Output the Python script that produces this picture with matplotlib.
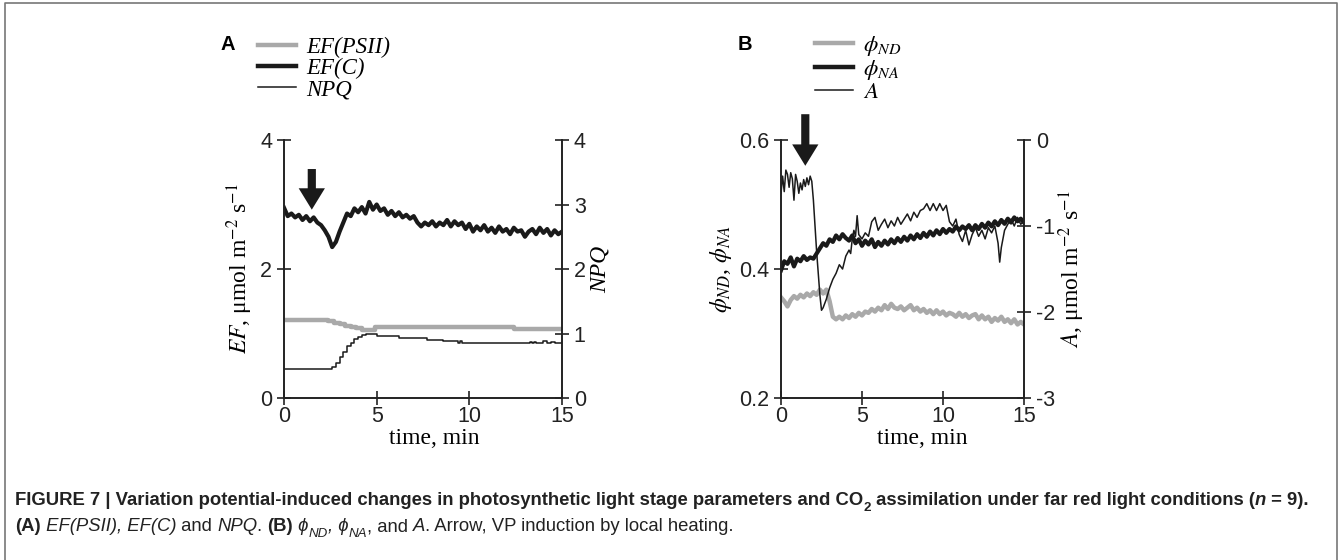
import numpy as np
import matplotlib
matplotlib.use('Agg')
import matplotlib.pyplot as plt
from matplotlib.lines import Line2D
from matplotlib.font_manager import FontProperties

# ---------------- data ----------------
t_grid = np.round(np.arange(0, 15.01, 0.2), 2)

ef_c = [2.95, 2.82, 2.86, 2.80, 2.84, 2.76, 2.82, 2.74, 2.80, 2.72,
        2.68, 2.60, 2.50, 2.34, 2.42, 2.58, 2.72, 2.86, 2.82, 2.94,
        2.88, 2.96, 2.86, 3.04, 2.92, 3.00, 2.90, 2.94, 2.84, 2.90,
        2.82, 2.88, 2.80, 2.84, 2.78, 2.82, 2.72, 2.66, 2.72, 2.68,
        2.74, 2.66, 2.72, 2.68, 2.76, 2.66, 2.74, 2.68, 2.72, 2.62,
        2.70, 2.58, 2.66, 2.60, 2.68, 2.58, 2.64, 2.56, 2.66, 2.58,
        2.62, 2.54, 2.64, 2.58, 2.60, 2.50, 2.58, 2.62, 2.54, 2.64,
        2.56, 2.62, 2.52, 2.60, 2.54, 2.58]

t_psii = [0, 2.4, 2.7, 3.0, 3.3, 3.6, 3.9, 4.2, 4.9, 12.4, 15]
ef_psii = [1.21, 1.19, 1.17, 1.15, 1.12, 1.10, 1.08, 1.06, 1.10, 1.07, 1.07]

t_npq = [0, 2.4, 2.6, 2.8, 3.0, 3.2, 3.4, 3.6, 3.8, 4.0,
         4.2, 4.4, 4.6, 4.9, 5.0, 6.0, 6.2, 7.5, 7.7, 8.4,
         8.6, 9.3, 9.4, 9.5, 9.6, 10.0, 13.2, 13.3, 13.4, 13.5,
         13.6, 13.8, 14.0, 14.2, 14.4, 14.6, 15]
npq = [0.45, 0.45, 0.48, 0.55, 0.63, 0.72, 0.80, 0.86, 0.91, 0.94,
       0.97, 0.99, 1.00, 1.00, 0.96, 0.96, 0.93, 0.93, 0.90, 0.90,
       0.88, 0.88, 0.86, 0.89, 0.86, 0.85, 0.85, 0.87, 0.85, 0.87,
       0.86, 0.86, 0.88, 0.86, 0.87, 0.86, 0.87]

phi_nd = [0.356, 0.350, 0.342, 0.352, 0.358, 0.354, 0.360, 0.356, 0.362, 0.358,
          0.364, 0.360, 0.368, 0.362, 0.368, 0.350, 0.326, 0.322, 0.326, 0.322,
          0.328, 0.324, 0.330, 0.326, 0.332, 0.328, 0.334, 0.332, 0.338, 0.334,
          0.340, 0.336, 0.344, 0.338, 0.346, 0.340, 0.338, 0.342, 0.336, 0.340,
          0.344, 0.336, 0.340, 0.334, 0.338, 0.332, 0.336, 0.330, 0.336, 0.330,
          0.334, 0.328, 0.332, 0.330, 0.326, 0.332, 0.326, 0.330, 0.324, 0.328,
          0.330, 0.322, 0.328, 0.322, 0.326, 0.318, 0.324, 0.320, 0.326, 0.318,
          0.322, 0.316, 0.322, 0.314, 0.318, 0.314]

phi_na = [0.398, 0.412, 0.408, 0.418, 0.404, 0.416, 0.412, 0.420, 0.414, 0.418,
          0.416, 0.424, 0.432, 0.440, 0.436, 0.446, 0.442, 0.452, 0.446, 0.454,
          0.448, 0.444, 0.452, 0.440, 0.446, 0.436, 0.444, 0.438, 0.446, 0.434,
          0.442, 0.436, 0.444, 0.438, 0.446, 0.440, 0.448, 0.442, 0.450, 0.444,
          0.452, 0.446, 0.454, 0.448, 0.456, 0.450, 0.458, 0.452, 0.460, 0.454,
          0.462, 0.456, 0.462, 0.458, 0.466, 0.460, 0.466, 0.462, 0.468, 0.460,
          0.468, 0.462, 0.470, 0.464, 0.472, 0.466, 0.474, 0.468, 0.476, 0.470,
          0.478, 0.472, 0.480, 0.474, 0.478, 0.472]

t_assim = [0, 0.1, 0.2, 0.3, 0.4, 0.5, 0.6, 0.7, 0.8, 0.9,
           1.0, 1.1, 1.2, 1.3, 1.4, 1.5, 1.6, 1.7, 1.8, 1.9,
           2.0, 2.2, 2.4, 2.5, 2.6, 2.8, 3.0, 3.2, 3.4, 3.6,
           3.8, 4.0, 4.2, 4.3, 4.4, 4.5, 4.6, 4.7, 4.8, 5.0,
           5.2, 5.4, 5.6, 5.8, 6.0, 6.2, 6.4, 6.6, 6.8, 7.0,
           7.2, 7.4, 7.6, 7.8, 8.0, 8.2, 8.4, 8.6, 8.8, 9.0,
           9.2, 9.4, 9.6, 9.8, 10.0, 10.2, 10.4, 10.6, 10.8, 11.0,
           11.2, 11.4, 11.6, 11.8, 12.0, 12.2, 12.4, 12.6, 12.8, 13.0,
           13.2, 13.4, 13.5, 13.6, 13.8, 14.0, 14.2, 14.4, 14.6, 14.8,
           15.0]
assim = [-0.62, -0.42, -0.60, -0.35, -0.40, -0.55, -0.38, -0.45, -0.70, -0.40,
         -0.48, -0.62, -0.50, -0.58, -0.46, -0.54, -0.44, -0.52, -0.42, -0.48,
         -0.70, -1.30, -1.80, -1.98, -1.95, -1.85, -1.72, -1.62, -1.55, -1.45,
         -1.50, -1.35, -1.28, -1.32, -1.15, -1.05, -1.12, -0.88, -1.10, -1.15,
         -1.08, -1.12, -0.95, -0.90, -1.05, -0.98, -0.92, -1.02, -0.94, -1.00,
         -0.90, -0.98, -0.92, -0.86, -0.94, -0.84, -0.90, -0.82, -0.80, -0.74,
         -0.82, -0.74, -0.82, -0.74, -0.82, -0.76, -0.95, -1.00, -0.92, -1.10,
         -1.18, -1.05, -1.22, -1.10, -1.02, -1.12, -1.05, -1.15, -1.02, -1.08,
         -1.00, -1.20, -1.42, -1.25, -1.05, -0.98, -0.92, -1.00, -0.90, -0.98,
         -0.94]

arrow_time = 1.5
x_ticks = [0, 5, 10, 15]
yA_left_ticks = [0, 2, 4]
yA_right_ticks = [0, 1, 2, 3, 4]
yB_left_ticks = [0.2, 0.4, 0.6]
yB_right_ticks = [-3, -2, -1, 0]

# ---------------- fonts ----------------
CAP_FAMILY = ['Liberation Sans', 'DejaVu Sans']
SERIF = 'Liberation Serif'

plt.rcParams['font.family'] = ['Liberation Sans', 'DejaVu Sans']
plt.rcParams['mathtext.fontset'] = 'stix'
plt.rcParams['axes.unicode_minus'] = False

W, H = 1342, 560
fig = plt.figure(figsize=(W / 100, H / 100), dpi=100)


def fx(px):
    return px / W


def fy(py):
    return 1 - py / H


GRAY = '#a9a9a9'
BLACK = '#1a1a1a'
TICK_FS = 15.5
LABEL_FS = 17

# frame
fig.add_artist(Line2D([fx(5), fx(5), fx(1337), fx(1337)], [0, fy(3), fy(3), 0],
                      transform=fig.transFigure, color='#777777', lw=1.2))


def style_axes(ax, ax2):
    for a in (ax, ax2):
        a.spines['top'].set_visible(False)
        for s in ('left', 'right', 'bottom'):
            a.spines[s].set_linewidth(1.2)
            a.spines[s].set_color('#222222')
        a.tick_params(direction='inout', length=10, width=1.2, labelsize=TICK_FS,
                      color='#222222', labelcolor='#222222')
    ax.tick_params(axis='x', pad=0.5)
    ax.set_xlim(0, 15)
    ax.set_xticks(x_ticks)


def arrow(ax, x, y_tip, y_tail):
    ax.annotate('', xy=(x, y_tip), xytext=(x, y_tail),
                arrowprops=dict(arrowstyle='simple,head_length=1.1,head_width=1.35,tail_width=0.42',
                                fc=BLACK, ec=BLACK, lw=0, shrinkA=0, shrinkB=0,
                                mutation_scale=14),
                annotation_clip=False)


AX_TOP, AX_BOT = 140, 398

# ---------------- panel A ----------------
axA = fig.add_axes([fx(284), fy(AX_BOT), fx(562) - fx(284), (AX_BOT - AX_TOP) / H])
axA2 = axA.twinx()
style_axes(axA, axA2)
axA.plot(t_psii, ef_psii, color=GRAY, lw=3.2, drawstyle='steps-post')
axA.plot(t_grid, ef_c, color=BLACK, lw=3.0)
axA2.plot(t_npq, npq, color=BLACK, lw=1.1, drawstyle='steps-post')
axA.set_ylim(0, 4)
axA2.set_ylim(0, 4)
axA.set_yticks(yA_left_ticks)
axA2.set_yticks(yA_right_ticks)
axA.set_ylabel(r'$\mathit{EF}$, μmol m$^{-2}$ s$^{-1}$', family=SERIF, fontsize=LABEL_FS)
axA2.set_ylabel('NPQ', family=SERIF, style='italic', fontsize=LABEL_FS, labelpad=3)
axA.set_xlabel('time, min', family=SERIF, fontsize=LABEL_FS)
axA.xaxis.set_label_coords(0.54, -0.118)
arrow(axA, arrow_time, 2.92, 3.55)

# ---------------- panel B ----------------
axB = fig.add_axes([fx(781), fy(AX_BOT), fx(1024) - fx(781), (AX_BOT - AX_TOP) / H])
axB2 = axB.twinx()
style_axes(axB, axB2)
axB.plot(t_grid, phi_nd, color=GRAY, lw=3.2)
axB.plot(t_grid, phi_na, color=BLACK, lw=3.0)
axB2.plot(t_assim, assim, color=BLACK, lw=1.1)
axB.set_ylim(0.2, 0.6)
axB2.set_ylim(-3, 0)
axB.set_yticks(yB_left_ticks)
axB.set_yticklabels(['%.1f' % v for v in yB_left_ticks])
axB2.set_yticks(yB_right_ticks)
axB.set_ylabel(r'$\phi_{ND}$, $\phi_{NA}$', family=SERIF, fontsize=LABEL_FS)
axB2.set_ylabel(r'$\mathit{A}$, μmol m$^{-2}$ s$^{-1}$', family=SERIF, fontsize=LABEL_FS,
                labelpad=1)
axB.set_xlabel('time, min', family=SERIF, fontsize=LABEL_FS)
axB.xaxis.set_label_coords(0.58, -0.118)
arrow(axB, arrow_time, 0.56, 0.64)

# ---------------- panel letters & legends ----------------
fig.text(fx(228), fy(45), 'A', weight='bold', fontsize=14.5, va='center', ha='center')
fig.text(fx(745), fy(45), 'B', weight='bold', fontsize=14.5, va='center', ha='center')

leg_prop = FontProperties(family=SERIF, style='italic', size=16.5)
hA = [Line2D([], [], color=GRAY, lw=3.2), Line2D([], [], color=BLACK, lw=3.2),
      Line2D([], [], color=BLACK, lw=1.1)]
fig.legend(hA, ['EF(PSII)', 'EF(C)', 'NPQ'], loc='upper left',
           bbox_to_anchor=(fx(258), fy(37)), frameon=False, borderpad=0, borderaxespad=0,
           handlelength=1.65, handletextpad=0.45, labelspacing=0.0, prop=leg_prop)
fig.legend(hA, [r'$\phi_{ND}$', r'$\phi_{NA}$', r'$A$'], loc='upper left',
           bbox_to_anchor=(fx(815), fy(34)), frameon=False, borderpad=0, borderaxespad=0,
           handlelength=1.65, handletextpad=0.45, labelspacing=0.0, prop=leg_prop)

# ---------------- caption ----------------
renderer = fig.canvas.get_renderer()


def text_w(s, **kw):
    t = fig.text(0, 0, s, **kw)
    w = t.get_window_extent(renderer).width
    t.remove()
    return w


def adv(s, **kw):
    return text_w(s + '|', **kw) - text_w('|', **kw)


def piece_kw(weight, style, size):
    return dict(family=CAP_FAMILY, weight=weight, style=style, fontsize=size)


def line_width(pieces, size):
    tot = 0
    for s, weight, style, sub in pieces:
        sz = size * 0.72 if sub else size
        tot += adv(s, **piece_kw(weight, style, sz))
    return tot


def draw_line(pieces, x0, ybase, size):
    x = x0
    for s, weight, style, sub in pieces:
        sz = size * 0.72 if sub else size
        yy = ybase + (size * 0.3 * 100 / 72 if sub else 0)
        kw = piece_kw(weight, style, sz)
        fig.text(fx(x), fy(yy), s, va='baseline', ha='left', color='#222222', **kw)
        x += adv(s, **kw)


line1 = [("FIGURE 7 | Variation potential-induced changes in photosynthetic light stage "
          "parameters and CO", 'bold', 'normal', False),
         ("2", 'bold', 'normal', True),
         (" assimilation under far red light conditions (", 'bold', 'normal', False),
         ("n", 'bold', 'italic', False),
         (" = 9).", 'bold', 'normal', False)]
line2 = [("(A)", 'bold', 'normal', False),
         (" EF(PSII), EF(C)", 'normal', 'italic', False),
         (" and ", 'normal', 'normal', False),
         ("NPQ", 'normal', 'italic', False),
         (". ", 'normal', 'normal', False),
         ("(B)", 'bold', 'normal', False),
         (" ϕ", 'normal', 'italic', False),
         ("ND", 'normal', 'italic', True),
         (", ϕ", 'normal', 'italic', False),
         ("NA", 'normal', 'italic', True),
         (", and ", 'normal', 'normal', False),
         ("A", 'normal', 'italic', False),
         (". Arrow, VP induction by local heating.", 'normal', 'normal', False)]

base = 10.0
w1 = line_width(line1, base)
cap_size = base * (1318 - 15) / w1
draw_line(line1, 15, 505, cap_size)
draw_line(line2, 15, 531, cap_size)

fig.savefig('out.png', dpi=100)
